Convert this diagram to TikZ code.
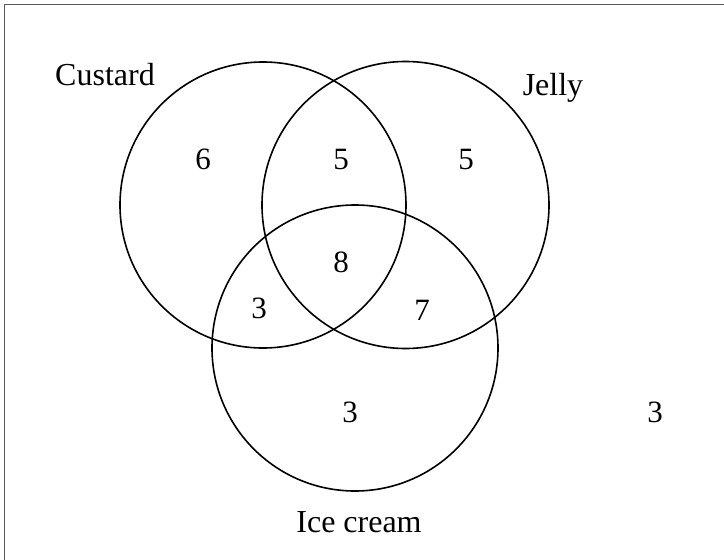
\documentclass[tikz,border=0pt]{standalone}
\usepackage{fontspec}
\setmainfont{Liberation Serif}
\begin{document}
\begin{tikzpicture}[x=1pt,y=-1pt,
  setcircle/.style={draw=black,line width=1.6pt},
  lbl/.style={anchor=base,inner sep=0pt,font=\fontsize{32}{38}\selectfont},
  num/.style={anchor=base,inner sep=0pt,font=\fontsize{31}{37}\selectfont}]
\useasboundingbox (0,0) rectangle (724,560);
\coordinate (bl) at (4.5,560);
\coordinate (tl) at (4.5,4.5);
\coordinate (tr) at (724,4.5);
\draw[line width=1.8pt,color=black!65] (bl) -- (tl) -- (tr);
\node[setcircle,circle,minimum size=286pt,inner sep=0pt] (custard) at (263,205) {};
\node[setcircle,circle,minimum size=287pt,inner sep=0pt] (jelly) at (405.5,205) {};
\node[setcircle,circle,minimum size=286pt,inner sep=0pt] (icecream) at (355,348) {};
\node[lbl] (lc) at (105,85) {Custard};
\node[lbl] (lj) at (553,95) {Jelly};
\node[lbl] (li) at (359,532) {Ice cream};
\node[num] (n1) at (203,169) {6};
\node[num] (n2) at (341,169) {5};
\node[num] (n3) at (466,169) {5};
\node[num] (n4) at (341,272) {8};
\node[num] (n5) at (259,318) {3};
\node[num] (n6) at (422,320) {7};
\node[num] (n7) at (350,422) {3};
\node[num] (n8) at (655,422) {3};
\end{tikzpicture}
\end{document}
